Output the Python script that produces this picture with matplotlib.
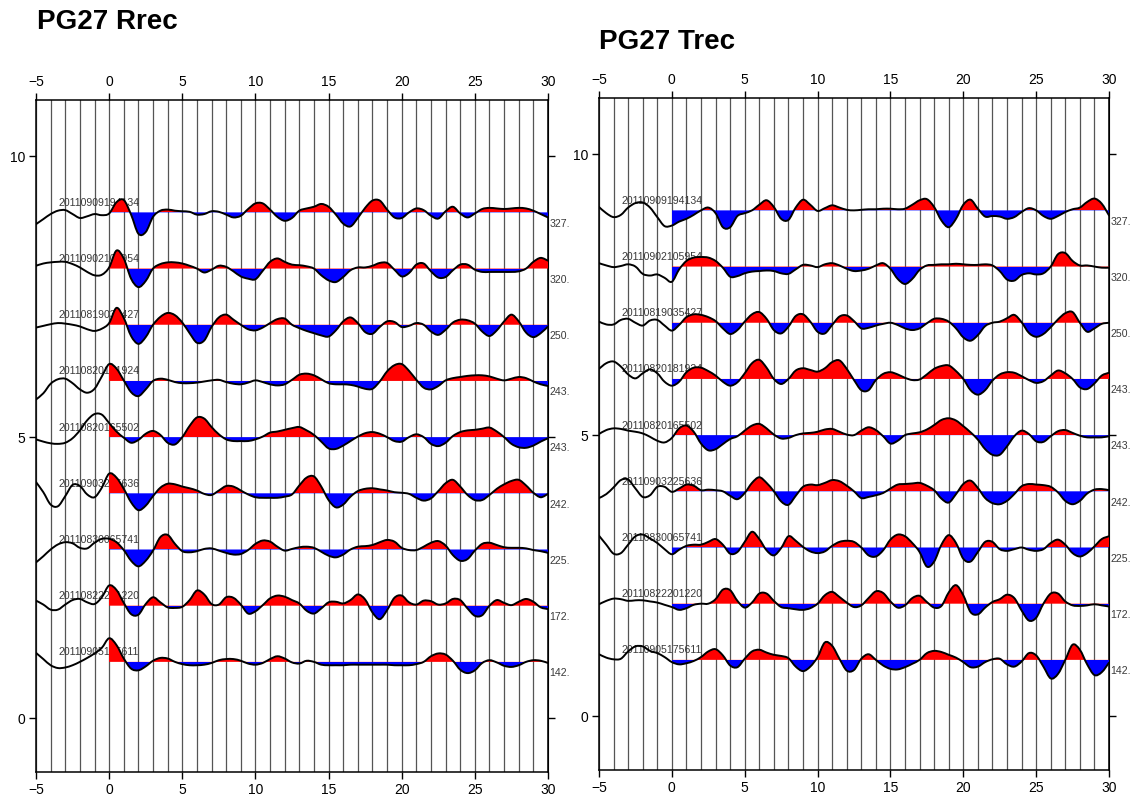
import numpy as np
import matplotlib
matplotlib.use('Agg')
import matplotlib.pyplot as plt
from matplotlib.path import Path
from matplotlib.patches import PathPatch, Rectangle

plt.rcParams['font.family'] = ['Liberation Sans', 'DejaVu Sans']

# sample times (s), every 0.5 s from -5 to 30
time_s = np.arange(-5, 30.01, 0.5)

event_ids = ['20110909194134', '20110902105954', '20110819035427', '20110820181924',
             '20110820165502', '20110903225636', '20110830065741', '20110822201220',
             '20110905175611']
baz_labels = ['327.', '320.', '250.', '243.', '243.', '242.', '225.', '172.', '142.']
trace_offsets = [9, 8, 7, 6, 5, 4, 3, 2, 1]

# ---- Rrec amplitudes (trace units) ----
rrec_1 = [-0.21, -0.12, -0.03, 0.03, 0.04, -0.03, -0.10, -0.07, -0.03, -0.05, -0.02, 0.18, 0.22, -0.04, -0.38, -0.35, -0.08, 0.03, 0.05, 0.03, 0.02, 0.01, -0.04, -0.03, 0.02, 0.01, -0.04, -0.09, -0.06, 0.06, 0.16, 0.16, 0.05, -0.08, -0.15, -0.10, 0.03, 0.07, 0.10, 0.15, 0.10, -0.04, -0.20, -0.25, -0.10, 0.08, 0.21, 0.21, 0.05, -0.09, -0.10, 0.00, 0.07, 0.04, -0.06, -0.11, 0.02, 0.10, -0.02, -0.09, -0.02, 0.06, 0.08, 0.07, 0.06, 0.07, 0.08, 0.07, 0.03, -0.03, -0.09]
rrec_2 = [0.05, 0.09, 0.11, 0.12, 0.12, 0.08, 0.02, -0.06, -0.12, -0.11, 0.02, 0.32, 0.18, -0.18, -0.33, -0.22, 0.00, 0.08, 0.11, 0.11, 0.09, 0.05, 0.00, -0.07, -0.02, 0.05, 0.03, -0.05, -0.14, -0.18, -0.19, -0.04, 0.12, 0.18, 0.12, 0.07, 0.06, 0.04, 0.00, -0.12, -0.21, -0.24, -0.15, -0.03, 0.02, 0.02, 0.05, 0.10, 0.10, -0.02, -0.14, -0.08, 0.07, 0.09, -0.05, -0.16, -0.15, -0.03, 0.07, 0.07, -0.02, -0.06, -0.06, -0.06, -0.06, -0.06, -0.05, 0.00, 0.12, 0.19, 0.14]
rrec_3 = [-0.05, -0.02, 0.01, 0.03, 0.02, 0.00, -0.03, -0.08, -0.11, -0.07, 0.03, 0.30, 0.12, -0.20, -0.34, -0.22, 0.00, 0.14, 0.21, 0.17, 0.04, -0.15, -0.32, -0.28, -0.04, 0.13, 0.18, 0.09, 0.00, -0.08, -0.10, -0.05, 0.03, 0.10, 0.11, 0.00, -0.06, -0.11, -0.15, -0.19, -0.21, -0.10, 0.06, 0.13, 0.03, -0.13, -0.16, -0.04, 0.06, 0.05, -0.04, -0.02, 0.03, 0.00, -0.12, -0.18, -0.09, 0.04, 0.09, 0.08, 0.02, -0.12, -0.20, -0.10, 0.06, 0.18, 0.06, -0.14, -0.22, -0.15, -0.03]
rrec_4 = [-0.33, -0.22, -0.05, 0.03, 0.04, -0.04, -0.15, -0.21, -0.14, 0.08, 0.30, 0.22, 0.01, -0.20, -0.27, -0.15, 0.00, 0.04, 0.02, -0.02, -0.04, -0.04, -0.03, -0.01, 0.01, 0.02, -0.02, -0.05, -0.06, -0.03, 0.01, -0.02, -0.06, -0.08, -0.06, 0.02, 0.11, 0.13, 0.10, 0.03, -0.04, -0.06, -0.06, -0.07, -0.10, -0.14, -0.14, -0.01, 0.17, 0.28, 0.30, 0.18, 0.02, -0.12, -0.15, -0.09, 0.01, 0.05, 0.07, 0.09, 0.10, 0.10, 0.08, 0.04, 0.01, 0.04, 0.07, 0.05, -0.01, -0.06, -0.09]
rrec_5 = [-0.04, -0.08, -0.11, -0.12, -0.10, -0.02, 0.12, 0.30, 0.41, 0.40, 0.25, 0.10, -0.01, -0.10, -0.05, 0.06, 0.11, 0.04, -0.10, -0.13, 0.00, 0.20, 0.35, 0.33, 0.18, 0.05, -0.04, -0.07, -0.07, -0.07, -0.04, 0.01, 0.08, 0.10, 0.13, 0.16, 0.18, 0.12, 0.04, -0.08, -0.20, -0.21, -0.15, -0.07, 0.01, 0.07, 0.09, 0.06, 0.00, -0.07, -0.08, 0.00, 0.05, 0.00, -0.12, -0.16, -0.10, 0.02, 0.09, 0.12, 0.13, 0.15, 0.17, 0.10, 0.00, -0.12, -0.18, -0.19, -0.15, -0.08, -0.02]
rrec_6 = [0.20, 0.02, -0.20, -0.23, -0.05, 0.15, 0.13, -0.02, -0.07, 0.10, 0.35, 0.28, 0.08, -0.16, -0.30, -0.22, -0.05, 0.10, 0.17, 0.16, 0.12, 0.09, 0.05, -0.01, -0.03, 0.05, 0.13, 0.12, 0.05, -0.02, -0.07, -0.08, -0.08, -0.08, -0.06, -0.02, 0.14, 0.28, 0.30, 0.12, -0.12, -0.25, -0.20, -0.06, 0.04, 0.08, 0.09, 0.07, 0.05, 0.02, 0.01, -0.01, -0.08, -0.13, -0.09, 0.04, 0.18, 0.24, 0.12, -0.03, -0.12, -0.12, -0.03, 0.08, 0.16, 0.22, 0.24, 0.14, 0.01, -0.07, -0.01]
rrec_7 = [-0.23, -0.12, 0.00, 0.09, 0.13, 0.11, 0.03, 0.02, 0.12, 0.19, 0.19, 0.13, -0.01, -0.20, -0.30, -0.20, -0.02, 0.22, 0.26, 0.10, -0.03, -0.05, -0.03, 0.01, 0.02, -0.02, -0.06, -0.09, -0.08, -0.01, 0.10, 0.16, 0.14, 0.05, -0.02, 0.01, 0.04, 0.05, 0.03, -0.04, -0.11, -0.14, -0.09, 0.00, 0.05, 0.06, 0.08, 0.13, 0.17, 0.14, 0.03, -0.01, -0.01, 0.05, 0.12, 0.15, 0.07, -0.10, -0.20, -0.17, -0.02, 0.10, 0.12, 0.08, 0.04, 0.03, 0.03, 0.02, -0.01, -0.03, -0.06]
rrec_8 = [0.09, 0.02, -0.07, -0.07, 0.02, 0.10, 0.12, 0.06, 0.03, 0.15, 0.36, 0.28, 0.05, -0.15, -0.16, 0.03, 0.15, 0.06, -0.03, -0.04, -0.02, 0.10, 0.27, 0.20, 0.03, 0.02, 0.15, 0.14, 0.02, -0.14, -0.10, 0.01, 0.13, 0.18, 0.16, 0.10, 0.04, -0.09, -0.14, -0.05, 0.06, 0.07, 0.04, 0.10, 0.20, 0.11, -0.12, -0.24, -0.08, 0.14, 0.18, 0.06, 0.02, 0.09, 0.08, 0.02, 0.04, 0.12, 0.10, -0.05, -0.18, -0.17, 0.00, 0.10, 0.05, 0.01, 0.07, 0.12, 0.07, -0.03, -0.06]
rrec_9 = [0.16, 0.05, -0.06, -0.11, -0.10, -0.06, 0.00, 0.07, 0.15, 0.25, 0.42, 0.30, 0.06, -0.12, -0.15, -0.08, 0.02, 0.07, 0.06, 0.00, -0.04, -0.06, -0.06, -0.05, -0.02, 0.03, 0.05, 0.05, 0.02, -0.03, -0.05, -0.02, 0.05, 0.10, 0.06, -0.01, -0.03, 0.02, 0.00, -0.05, -0.06, -0.06, -0.06, -0.05, -0.05, -0.05, -0.05, -0.05, -0.05, -0.06, -0.06, -0.06, -0.04, 0.00, 0.10, 0.15, 0.13, 0.02, -0.14, -0.20, -0.15, -0.02, 0.03, -0.01, -0.07, -0.09, -0.06, 0.00, 0.03, 0.02, -0.02]

# ---- Trec amplitudes (trace units) ----
trec_1 = [0.06, -0.05, -0.12, -0.08, 0.05, 0.13, 0.14, 0.05, -0.12, -0.28, -0.27, -0.20, -0.15, -0.08, 0.00, 0.05, -0.05, -0.30, -0.30, -0.10, -0.05, 0.00, 0.10, 0.18, 0.06, -0.15, -0.17, 0.05, 0.19, 0.10, -0.01, 0.04, 0.09, 0.05, 0.01, 0.00, 0.01, 0.02, 0.02, 0.03, 0.03, 0.02, 0.03, 0.10, 0.18, 0.20, 0.06, -0.18, -0.30, -0.15, 0.10, 0.19, 0.03, -0.11, -0.10, -0.11, -0.15, -0.12, -0.03, 0.04, 0.00, -0.10, -0.15, -0.10, -0.03, 0.02, 0.05, 0.15, 0.21, 0.12, -0.09]
trec_2 = [0.06, 0.02, -0.01, 0.01, 0.04, 0.00, -0.13, -0.16, -0.14, -0.20, -0.27, -0.05, 0.10, 0.16, 0.17, 0.16, 0.10, -0.02, -0.18, -0.17, -0.12, -0.09, -0.08, -0.07, -0.08, -0.12, -0.13, -0.05, 0.03, 0.02, -0.01, 0.04, 0.06, 0.02, -0.04, -0.08, -0.07, -0.04, 0.02, 0.06, -0.04, -0.22, -0.31, -0.22, -0.06, 0.02, 0.03, 0.04, 0.04, 0.05, 0.04, 0.03, 0.03, 0.04, 0.02, -0.08, -0.23, -0.25, -0.15, -0.12, -0.14, -0.12, 0.00, 0.22, 0.24, 0.10, 0.02, 0.02, 0.00, -0.02, -0.02]
trec_3 = [0.02, -0.03, -0.03, 0.05, 0.07, 0.00, -0.05, 0.04, 0.05, -0.05, -0.14, -0.04, 0.10, 0.15, 0.14, 0.10, 0.03, -0.10, -0.20, -0.13, 0.02, 0.15, 0.19, 0.07, -0.13, -0.19, -0.07, 0.12, 0.15, 0.02, -0.16, -0.19, -0.04, 0.11, 0.13, 0.03, -0.10, -0.09, -0.05, -0.02, 0.00, -0.04, -0.10, -0.13, -0.10, -0.01, 0.07, 0.07, 0.02, -0.10, -0.26, -0.32, -0.22, -0.06, 0.00, 0.02, 0.08, 0.14, 0.01, -0.18, -0.25, -0.20, -0.08, 0.06, 0.17, 0.19, 0.00, -0.16, -0.10, -0.02, 0.00]
trec_4 = [0.18, 0.28, 0.31, 0.22, 0.08, 0.01, 0.10, 0.17, 0.10, -0.05, -0.12, -0.05, 0.12, 0.20, 0.20, 0.14, 0.06, -0.05, -0.12, -0.06, 0.10, 0.28, 0.34, 0.20, 0.00, -0.09, 0.00, 0.15, 0.19, 0.16, 0.13, 0.19, 0.30, 0.33, 0.18, -0.02, -0.20, -0.20, -0.02, 0.09, 0.12, 0.08, 0.02, -0.02, -0.01, 0.08, 0.18, 0.23, 0.24, 0.14, 0.00, -0.20, -0.28, -0.20, -0.03, 0.08, 0.12, 0.11, 0.05, -0.02, -0.07, -0.04, 0.06, 0.15, 0.10, 0.00, -0.15, -0.18, -0.08, 0.06, 0.11]
trec_5 = [0.02, 0.09, 0.12, 0.11, 0.08, 0.06, 0.03, -0.03, -0.10, -0.13, -0.05, 0.12, 0.17, 0.06, -0.15, -0.27, -0.25, -0.16, -0.07, -0.02, 0.08, 0.17, 0.20, 0.12, 0.01, -0.06, -0.05, 0.00, 0.03, 0.04, 0.06, 0.10, 0.11, 0.06, 0.01, 0.00, 0.08, 0.14, 0.09, -0.02, -0.15, -0.10, 0.00, 0.03, 0.05, 0.10, 0.18, 0.27, 0.30, 0.26, 0.16, 0.05, -0.08, -0.25, -0.35, -0.35, -0.20, -0.02, 0.08, 0.02, -0.11, -0.12, -0.02, 0.07, 0.09, 0.04, -0.01, -0.04, -0.04, -0.04, -0.02]
trec_6 = [-0.12, -0.05, 0.07, 0.20, 0.21, 0.05, -0.10, -0.07, 0.08, 0.08, -0.01, 0.05, 0.12, 0.10, 0.02, 0.03, 0.02, 0.00, -0.08, -0.14, -0.03, 0.15, 0.25, 0.15, 0.00, -0.18, -0.24, -0.08, 0.08, 0.12, 0.11, 0.15, 0.20, 0.18, 0.10, 0.00, -0.12, -0.10, -0.07, -0.03, 0.05, 0.12, 0.13, 0.14, 0.15, 0.10, 0.02, -0.13, -0.20, -0.05, 0.13, 0.19, 0.06, -0.12, -0.21, -0.23, -0.17, -0.05, 0.09, 0.13, 0.12, 0.11, 0.08, -0.02, -0.17, -0.23, -0.17, -0.04, 0.03, 0.04, 0.02]
trec_7 = [0.21, 0.05, -0.11, -0.10, 0.05, 0.20, 0.23, 0.16, 0.08, -0.03, -0.12, -0.04, 0.03, 0.05, 0.05, 0.10, 0.15, 0.05, -0.11, -0.08, 0.10, 0.28, 0.15, -0.05, -0.14, -0.01, 0.20, 0.12, 0.01, -0.07, -0.10, -0.07, 0.03, 0.10, 0.12, 0.10, 0.00, -0.14, -0.16, -0.05, 0.14, 0.23, 0.20, 0.08, -0.08, -0.34, -0.25, 0.05, 0.22, 0.08, -0.20, -0.25, -0.08, 0.10, 0.10, -0.03, -0.06, -0.03, 0.00, -0.04, -0.06, -0.03, 0.08, 0.14, 0.05, -0.10, -0.16, -0.10, 0.02, 0.15, 0.20]
trec_8 = [-0.01, 0.05, 0.09, 0.08, 0.05, 0.06, 0.06, 0.04, 0.02, -0.02, -0.06, -0.11, -0.08, -0.02, 0.00, 0.00, 0.08, 0.25, 0.24, 0.05, -0.07, 0.02, 0.18, 0.18, 0.05, -0.06, -0.08, -0.10, -0.11, -0.08, 0.00, 0.15, 0.21, 0.12, 0.02, -0.06, -0.03, 0.10, 0.22, 0.19, 0.04, -0.07, -0.03, 0.10, 0.14, 0.03, -0.07, -0.04, 0.20, 0.33, 0.15, -0.15, -0.19, -0.07, 0.03, 0.08, 0.16, 0.10, -0.12, -0.30, -0.25, 0.00, 0.18, 0.18, 0.04, -0.03, -0.04, -0.03, -0.01, -0.03, -0.05]
trec_9 = [0.10, 0.04, 0.01, 0.02, 0.15, 0.24, 0.24, 0.16, 0.12, 0.05, -0.04, -0.08, -0.06, -0.02, 0.05, 0.15, 0.19, 0.08, -0.10, -0.13, 0.02, 0.15, 0.18, 0.13, 0.09, 0.07, 0.03, -0.12, -0.20, -0.12, 0.05, 0.31, 0.25, 0.02, -0.19, -0.18, 0.02, 0.10, 0.00, -0.10, -0.16, -0.17, -0.13, -0.07, 0.00, 0.12, 0.16, 0.14, 0.09, 0.04, -0.04, -0.13, -0.12, -0.04, 0.01, 0.02, -0.08, -0.12, -0.03, 0.12, 0.08, -0.12, -0.33, -0.25, 0.00, 0.27, 0.18, -0.08, -0.27, -0.22, -0.05]

rrec_traces = [rrec_1, rrec_2, rrec_3, rrec_4, rrec_5, rrec_6, rrec_7, rrec_8, rrec_9]
trec_traces = [trec_1, trec_2, trec_3, trec_4, trec_5, trec_6, trec_7, trec_8, trec_9]

W, H = 1135, 806
fig = plt.figure(figsize=(W / 100, H / 100), dpi=100)


def make_axes(left, top, right, bottom):
    return fig.add_axes([left / W, 1 - bottom / H, (right - left) / W, (bottom - top) / H])


def smooth_path_vertices(x, y):
    """Catmull-Rom rendering through the samples using cubic Bezier segments."""
    pts = np.column_stack([x, y])
    ext = np.vstack([pts[:1], pts, pts[-1:]])
    verts = [pts[0]]
    codes = [Path.MOVETO]
    for i in range(1, len(ext) - 2):
        p0, p1, p2, p3 = ext[i - 1], ext[i], ext[i + 1], ext[i + 2]
        verts += [p1 + (p2 - p0) / 6.0, p2 - (p3 - p1) / 6.0, p2]
        codes += [Path.CURVE4, Path.CURVE4, Path.CURVE4]
    return verts, codes


def draw_panel(ax, traces, title, tx, ty):
    for g in range(-5, 31):
        ax.axvline(g, color='#555555', lw=0.9, zorder=1)
    for off, amp, eid, lab in zip(trace_offsets, traces, event_ids, baz_labels):
        amp = np.asarray(amp, dtype=float)
        ax.text(-3.45, off + 0.17, eid, fontsize=7.6, color='#3a3a3a',
                ha='left', va='center', zorder=2)
        verts, codes = smooth_path_vertices(time_s, off + amp)
        fverts = verts + [(time_s[-1], off), (time_s[0], off), (time_s[0], off)]
        fcodes = codes + [Path.LINETO, Path.LINETO, Path.CLOSEPOLY]
        fill_path = Path(fverts, fcodes)
        for color, y0 in (('#ff0000', off), ('#0000ff', off - 2)):
            patch = PathPatch(fill_path, facecolor=color, edgecolor='none', lw=0, zorder=3)
            ax.add_patch(patch)
            clip = Rectangle((0, y0), 30, 2, transform=ax.transData)
            patch.set_clip_path(clip)
        line = PathPatch(Path(verts, codes), facecolor='none', edgecolor='black',
                         lw=1.4, zorder=4, capstyle='round', joinstyle='round')
        ax.add_patch(line)
        ax.text(30.1, off - 0.2, lab, fontsize=7.6, color='#3a3a3a',
                ha='left', va='center', clip_on=False)
    ax.set_xlim(-5, 30)
    ax.set_xticks(range(-5, 31, 5))
    ax.set_yticks([0, 5, 10])
    ax.tick_params(axis='x', top=True, labeltop=True, bottom=True, labelbottom=True,
                   direction='out', length=5, width=1, labelsize=10, pad=3)
    ax.tick_params(axis='y', direction='out', length=5, width=1, labelsize=10, pad=3)
    sec = ax.secondary_yaxis('right')
    sec.set_yticks([0, 5, 10])
    sec.set_yticklabels([])
    sec.tick_params(length=5, width=1)
    for s in ax.spines.values():
        s.set_linewidth(1.1)
    fig.text(tx / W, 1 - ty / H, title, fontsize=20, fontweight='bold',
             ha='left', va='center')


axL = make_axes(36, 100, 548, 772)
axL.set_ylim(-0.96, 11.0)
draw_panel(axL, rrec_traces, 'PG27 Rrec', 37, 22)

axR = make_axes(599, 98, 1109, 770)
axR.set_ylim(-0.96, 11.0)
draw_panel(axR, trec_traces, 'PG27 Trec', 599, 42)

fig.savefig('out.png', dpi=100)
